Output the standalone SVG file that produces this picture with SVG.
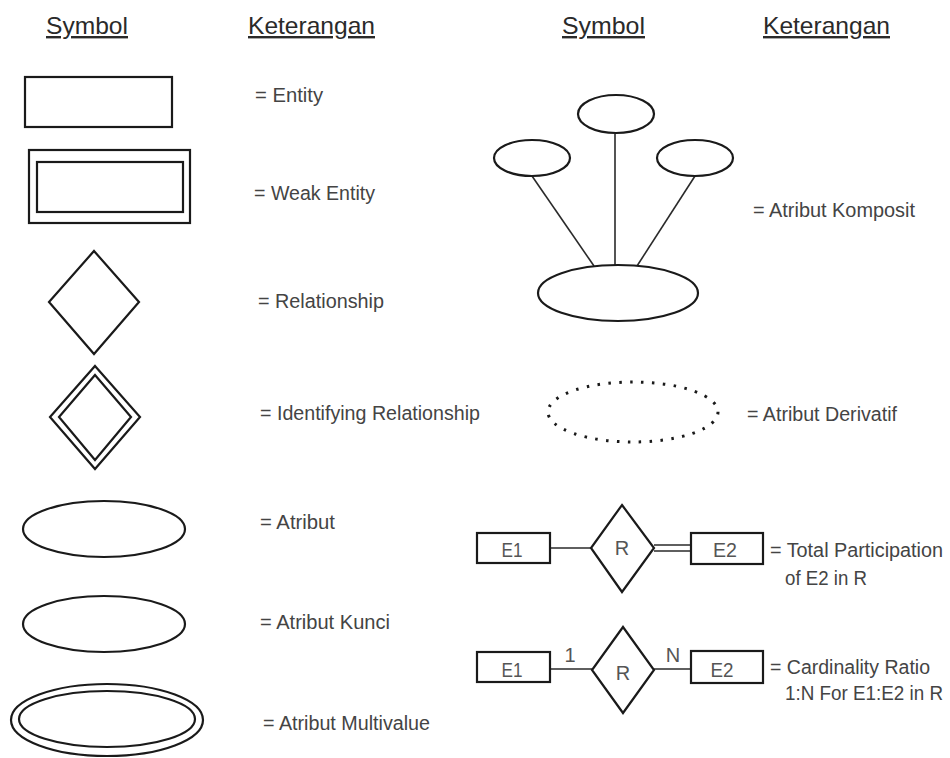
<svg xmlns="http://www.w3.org/2000/svg" width="950" height="758" viewBox="0 0 950 758">
  <style>
    .shape { fill: #ffffff; stroke: #1a1a1a; stroke-width: 2.2; }
    .line { fill: none; stroke: #2a2a2a; stroke-width: 1.6; }
    .head { font-family: "Liberation Sans", Arial, sans-serif; font-size: 24px; fill: #2a2a2a; text-decoration: underline; }
    .label { font-family: "Liberation Sans", Arial, sans-serif; font-size: 19.5px; fill: #444444; }
    .tag { font-family: "Liberation Sans", Arial, sans-serif; font-size: 20px; fill: #555555; text-anchor: middle; }
    .dots { fill: none; stroke: #1a1a1a; stroke-width: 3; stroke-dasharray: 2.5 8.4; stroke-linecap: butt; }
  </style>
  <rect width="950" height="758" fill="#ffffff"/>

  <!-- column headings -->
  <g id="headings">
    <text class="head" x="46" y="34" textLength="82" lengthAdjust="spacingAndGlyphs">Symbol</text>
    <text class="head" x="248" y="34" textLength="127" lengthAdjust="spacingAndGlyphs">Keterangan</text>
    <text class="head" x="562" y="34" textLength="83" lengthAdjust="spacingAndGlyphs">Symbol</text>
    <text class="head" x="763" y="34" textLength="127" lengthAdjust="spacingAndGlyphs">Keterangan</text>
  </g>

  <!-- left column symbols -->
  <g id="entity">
    <rect class="shape" x="25" y="77" width="147" height="50"/>
    <text class="label" x="255" y="102" textLength="68" lengthAdjust="spacingAndGlyphs">= Entity</text>
  </g>
  <g id="weak-entity">
    <rect class="shape" x="29" y="150" width="161" height="73"/>
    <rect class="shape" x="37" y="162" width="146" height="50"/>
    <text class="label" x="254" y="200" textLength="121" lengthAdjust="spacingAndGlyphs">= Weak Entity</text>
  </g>
  <g id="relationship">
    <polygon class="shape" points="94,251 139,302 94,354 49,302"/>
    <text class="label" x="258" y="308" textLength="126" lengthAdjust="spacingAndGlyphs">= Relationship</text>
  </g>
  <g id="identifying-relationship">
    <polygon class="shape" points="95,366 140,417 95,469 50,417"/>
    <polygon class="shape" points="95,375 131,417 95,460 59,417"/>
    <text class="label" x="260" y="420" textLength="220" lengthAdjust="spacingAndGlyphs">= Identifying Relationship</text>
  </g>
  <g id="atribut">
    <ellipse class="shape" cx="104" cy="529" rx="81" ry="28"/>
    <text class="label" x="260" y="529" textLength="75" lengthAdjust="spacingAndGlyphs">= Atribut</text>
  </g>
  <g id="atribut-kunci">
    <ellipse class="shape" cx="104" cy="624" rx="81" ry="28"/>
    <text class="label" x="260" y="629" textLength="130" lengthAdjust="spacingAndGlyphs">= Atribut Kunci</text>
  </g>
  <g id="atribut-multivalue">
    <ellipse class="shape" cx="107" cy="720" rx="96" ry="36"/>
    <ellipse class="shape" cx="107" cy="719" rx="88" ry="28"/>
    <text class="label" x="263" y="730" textLength="167" lengthAdjust="spacingAndGlyphs">= Atribut Multivalue</text>
  </g>

  <!-- connectors -->
  <g id="connectors">
    <line class="line" x1="532" y1="176" x2="594" y2="266"/>
    <line class="line" x1="615" y1="134" x2="615" y2="265"/>
    <line class="line" x1="695" y1="176" x2="637" y2="266"/>
    <line class="line" x1="550" y1="548" x2="591" y2="548"/>
    <line class="line" x1="654" y1="545" x2="691" y2="545"/>
    <line class="line" x1="654" y1="551" x2="691" y2="551"/>
    <line class="line" x1="550" y1="669" x2="592" y2="669"/>
    <line class="line" x1="654" y1="669" x2="691" y2="669"/>
  </g>

  <!-- right column symbols -->
  <g id="atribut-komposit">
    <ellipse class="shape" cx="616" cy="114" rx="38" ry="19"/>
    <ellipse class="shape" cx="532" cy="158" rx="38" ry="18"/>
    <ellipse class="shape" cx="695" cy="158" rx="38" ry="18"/>
    <ellipse class="shape" cx="618" cy="293" rx="80" ry="28"/>
    <text class="label" x="753" y="217" textLength="162" lengthAdjust="spacingAndGlyphs">= Atribut Komposit</text>
  </g>
  <g id="atribut-derivatif">
    <ellipse class="dots" cx="633" cy="412" rx="85" ry="30"/>
    <text class="label" x="747" y="421" textLength="150" lengthAdjust="spacingAndGlyphs">= Atribut Derivatif</text>
  </g>
  <g id="total-participation">
    <rect class="shape" x="477" y="533" width="73" height="30"/>
    <polygon class="shape" points="622,505 654,548 622,592 591,548"/>
    <rect class="shape" x="691" y="533" width="72" height="31"/>
    <text class="tag" x="512" y="557" textLength="21" lengthAdjust="spacingAndGlyphs">E1</text>
    <text class="tag" x="622" y="555">R</text>
    <text class="tag" x="725" y="557" textLength="24" lengthAdjust="spacingAndGlyphs">E2</text>
    <text class="label" x="770" y="557" textLength="173" lengthAdjust="spacingAndGlyphs">= Total Participation</text>
    <text class="label" x="785" y="585" textLength="82" lengthAdjust="spacingAndGlyphs">of E2 in R</text>
  </g>
  <g id="cardinality-ratio">
    <rect class="shape" x="477" y="652" width="73" height="30"/>
    <polygon class="shape" points="623,627 654,670 623,713 592,670"/>
    <rect class="shape" x="691" y="651" width="72" height="32"/>
    <text class="tag" x="512" y="677" textLength="21" lengthAdjust="spacingAndGlyphs">E1</text>
    <text class="tag" x="623" y="680">R</text>
    <text class="tag" x="722" y="677" textLength="23" lengthAdjust="spacingAndGlyphs">E2</text>
    <text class="tag" x="570" y="662">1</text>
    <text class="tag" x="673" y="662">N</text>
    <text class="label" x="770" y="674" textLength="160" lengthAdjust="spacingAndGlyphs">= Cardinality Ratio</text>
    <text class="label" x="785" y="700" textLength="158" lengthAdjust="spacingAndGlyphs">1:N For E1:E2 in R</text>
  </g>
</svg>
